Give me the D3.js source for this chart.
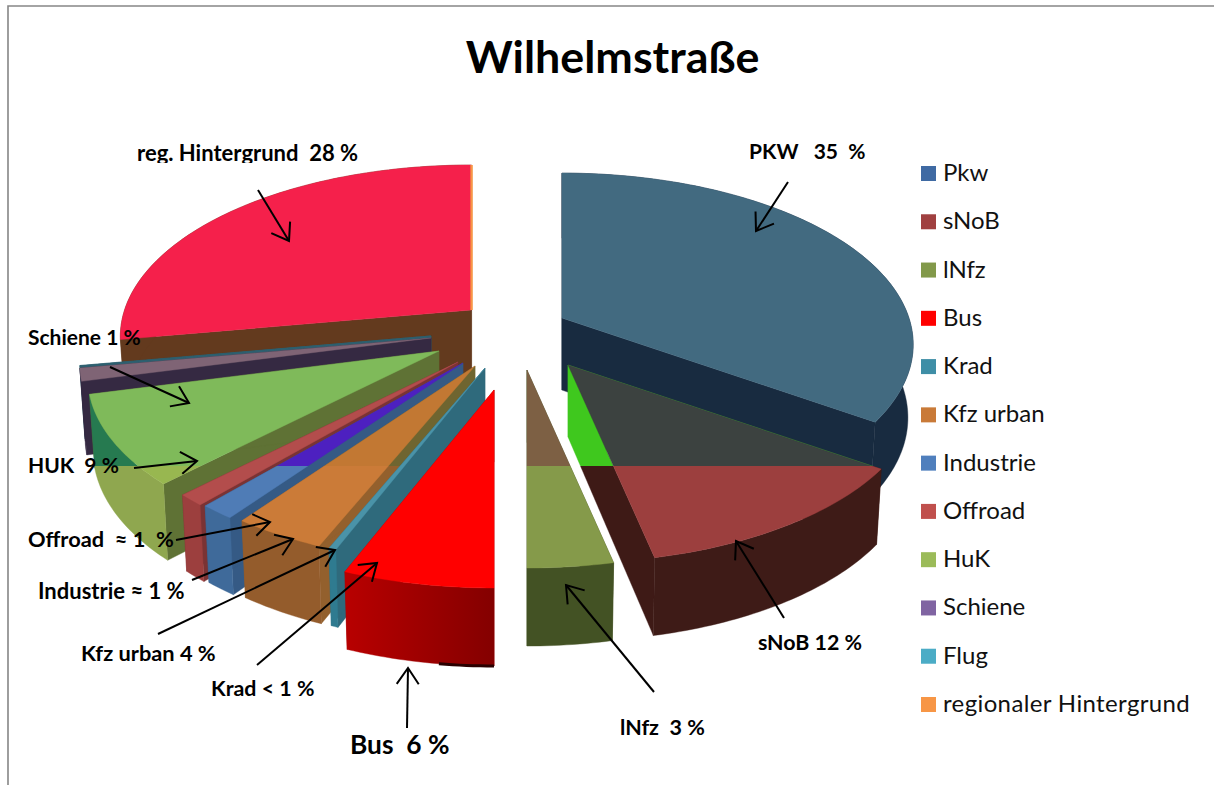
<!DOCTYPE html>
<html><head><meta charset="utf-8">
<script src="https://cdn.jsdelivr.net/npm/d3@7/dist/d3.min.js"></script>
<style>html,body{margin:0;padding:0;background:#fff;overflow:hidden}text{font-family:Lato,"Open Sans",sans-serif}</style>
</head><body><svg id="c" width="1214" height="785"></svg>
<script>
const title = "Wilhelmstraße";
const categories = ["Pkw","sNoB","lNfz","Bus","Krad","Kfz urban","Industrie","Offroad","HuK","Schiene","Flug","regionaler Hintergrund"];
const shares = [34.6,12,3.4,6,0.3,3.7,1.4,1.1,8.5,1.2,0.05,27.75];
const legendColors = ["#3f6aa3","#a04040","#82994a","#ff0000","#3e8ea6","#c97a38","#4f7fbd","#c0504d","#9bbb59","#8064a2","#4bacc6","#f79646"];
// explosion of each slice from the pie centre
const explodeDist = [63,66.1,33.3,46.3,30.5,36.6,45.7,50,66.3,74.3,74.5,48.4];
const explodeDir  = [64.7,107.6,138.7,193.7,221,235,246.8,250.1,264.8,275.4,277,316.3];
// faces: above / below the rendering seam of the 3-D surface
const topAbove  = ["#426a80","#3c4240","#7d6044","#ff0000","#4a93a8","#c27833","#4d20c0","#b34d4c","#7fba5a","#7f6475","#2e6070","#f5204b"];
const topBelow  = ["#426a80","#9c3f3e","#859a4a","#ff0000","#4a93a8","#cb7b38","#4f7cb6","#b34d4c","#98b750","#7f6475","#2e6070","#f5204b"];
const edgeAbove = ["#182b40","#3fc81e","#435224","#a00000","#2f6a7c","#6f6530","#355a85","#7a3334","#5f7235","#352942","#2e6070","#633a1e"];
const edgeBelow = ["#182b40","#3e1a16","#435224","#a00000","#2f6a7c","#93602d","#355a85","#7a3334","#5f7235","#352942","#2e6070","#633a1e"];
const rimAbove  = ["#182b40","#3e1b17","#435224","url(#busRim)","#2f7b90","#945c2c","#3f6a9a","#9c3f3e","#267a50","#352942","#2e6070","#633a1e"];
const rimBelow  = ["#182b40","#3e1b17","#435224","url(#busRim)","#2f7b90","#945c2c","#3f6a9a","#9c3f3e","#8fa74f","#352942","#2e6070","#633a1e"];
const paintOrder = ["regionaler Hintergrund","Flug","Schiene","HuK","Offroad","Industrie","Kfz urban","Krad","Bus","Pkw","sNoB","lNfz"];
const labelTexts = ["reg. Hintergrund  28 %","PKW   35  %","Schiene 1 %","HUK  9 %","Offroad  ≈ 1  %","Industrie ≈ 1 %","Kfz urban 4 %","Krad < 1 %","Bus  6 %","lNfz  3 %","sNoB 12 %"];
const labelX = [137,749,28,28,28,38,81,211,350,620,758];
const labelY = [161,159,345,473,547,599,661,696,754,735,650];
const labelSize = [22,21,21,21,21.8,22,21.8,21.4,26.3,21.5,21.4];
const arrowFrom = [[258,190],[788,182],[110,367],[134,468],[176,540],[192,580],[158,634],[257,665],[407,728],[654,692],[784,618]];
const arrowTo   = [[289,241],[756,231],[189,403],[197,461],[270,522],[293,539],[335,550],[377,563],[408,668],[566,585],[736,541]];

const svg = d3.select("#c");
const defs = svg.append("defs");
const seamY = 466, cx = 505, cy = 345;
const Rx = 347, Ry = 167.4, persp = 0.1545, bottomShrink = 0.985;
defs.append("clipPath").attr("id","above").append("rect").attr("width",1214).attr("height",seamY);
defs.append("clipPath").attr("id","below").append("rect").attr("y",seamY).attr("width",1214).attr("height",785-seamY);
defs.append("clipPath").attr("id","cutLabel").append("rect").attr("width",1214).attr("height",163);
const g = defs.append("linearGradient").attr("id","busRim");
g.append("stop").attr("offset",0).attr("stop-color","#b80000");
g.append("stop").attr("offset",1).attr("stop-color","#840000");
const mk = defs.append("marker").attr("id","arr").attr("markerUnits","userSpaceOnUse").attr("markerWidth",34).attr("markerHeight",34)
  .attr("refX",24).attr("refY",17).attr("orient","auto").attr("overflow","visible");
mk.append("path").attr("d","M8,6L24,17L8,28").attr("fill","none").attr("stroke","#000").attr("stroke-width",2);

// frame
svg.append("path").attr("d","M8,785V6H1214").attr("fill","none").attr("stroke","#868686").attr("stroke-width",1.6);
svg.append("text").attr("x",612.5).attr("y",73).attr("text-anchor","middle").attr("font-size",44.8).attr("font-weight",700).attr("fill","#000").text(title);

const pie = d3.pie().sort(null).value(d=>d.v).startAngle(0).endAngle(2*Math.PI);
const slices = pie(categories.map((n,i)=>({n,v:shares[i],i})));
const line = d3.line();
const rel = t => { const s=Math.sin(t),c=Math.cos(t),w=1+persp*c; return [Rx*s/w,-Ry*c/w]; };
const depth = t => 72-9*Math.cos(t);

const byName = new Map(slices.map(s=>[s.data.n,s]));
paintOrder.forEach(name=>{
  const s = byName.get(name), i = s.data.i;
  const dir = explodeDir[i]*Math.PI/180;
  const ax = cx+explodeDist[i]*Math.sin(dir), ay = cy-explodeDist[i]*Math.cos(dir);
  const n = Math.max(2,Math.ceil((s.endAngle-s.startAngle)*180/Math.PI));
  const ts = d3.range(n+1).map(k=>s.startAngle+(s.endAngle-s.startAngle)*k/n);
  const topP = t=>{const r=rel(t);return [ax+r[0],ay+r[1]];};
  const botP = t=>{const r=rel(t);return [ax+r[0]*bottomShrink,ay+r[1]*bottomShrink+depth(t)];};
  const apexBot = [ax,ay+depth(Math.PI/2)];
  const face = (pts,ca,cb)=>{
    const d = line(pts)+"Z";
    [["above",ca],["below",cb]].forEach(([clip,col])=>{
      svg.append("path").attr("d",d).attr("fill",col).attr("stroke",col).attr("stroke-width",0.4).attr("clip-path",`url(#${clip})`).attr("class","face");
    });
  };
  // radial walls
  [s.startAngle,s.endAngle].forEach(t=>face([[ax,ay],topP(t),botP(t),apexBot],edgeAbove[i],edgeBelow[i]));
  // outer rim
  face(ts.map(topP).concat(ts.slice().reverse().map(botP)),rimAbove[i],rimBelow[i]);
  // top surface
  face([[ax,ay]].concat(ts.map(topP)),topAbove[i],topBelow[i]);
  if(name==="regionaler Hintergrund"){
    svg.append("path").attr("d",line([[ax,ay],topP(s.endAngle)])).attr("stroke",legendColors[i]).attr("stroke-width",2.4).attr("fill","none");
  }
  if(name==="Bus"){
    const part = ts.filter((t,k)=>k<=n*0.4).map(botP);
    svg.append("path").attr("d",line(part)).attr("stroke","#2a0000").attr("stroke-width",3).attr("fill","none");
  }
});

// legend
const ly = d3.scalePoint().domain(categories).range([166,697]);
const lg = svg.append("g").selectAll("g").data(categories).join("g");
lg.append("rect").attr("x",921).attr("y",d=>ly(d)).attr("width",15).attr("height",15).attr("fill",(d,i)=>legendColors[i]);
lg.append("text").attr("x",943).attr("y",d=>ly(d)+15).attr("font-size",24).attr("fill","#111")
  .attr("letter-spacing",d=>d.length>15?0.37:null).text(d=>d);

// arrows
svg.append("g").selectAll("line").data(arrowFrom).join("line")
  .attr("x1",d=>d[0]).attr("y1",d=>d[1]).attr("x2",(d,i)=>arrowTo[i][0]).attr("y2",(d,i)=>arrowTo[i][1])
  .attr("stroke","#000").attr("stroke-width",2).attr("marker-end","url(#arr)");

// labels
svg.append("g").selectAll("text").data(labelTexts).join("text")
  .attr("x",(d,i)=>labelX[i]).attr("y",(d,i)=>labelY[i]).attr("font-size",(d,i)=>labelSize[i]).attr("font-weight",700).attr("fill","#000")
  .attr("xml:space","preserve").style("white-space","pre")
  .attr("clip-path",(d,i)=>i===0?"url(#cutLabel)":null).text(d=>d);
</script></body></html>
